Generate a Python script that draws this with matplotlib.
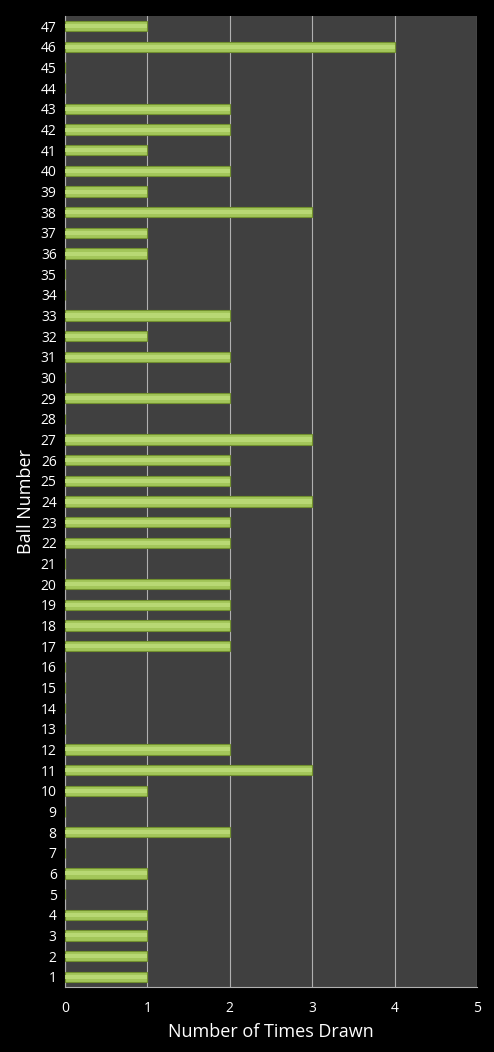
import matplotlib
matplotlib.use("Agg")
import matplotlib.pyplot as plt
import numpy as np

balls = list(range(1, 48))
times_drawn = [1, 1, 1, 1, 0, 1, 0, 2, 0, 1, 3, 2, 0, 0, 0, 0, 2, 2, 2, 2, 0, 2, 2, 3, 2, 2, 3, 0, 2,
               0, 2, 1, 2, 0, 0, 1, 1, 3, 1, 2, 1, 2, 2, 0, 0, 4, 1]
x_ticks = [0, 1, 2, 3, 4, 5]

plt.rcParams['font.family'] = ['Open Sans', 'DejaVu Sans']

fig = plt.figure(figsize=(4.94, 10.52), dpi=100, facecolor='black')
ax = fig.add_axes([65/494, 1-987/1052, (477-65)/494, (987-16)/1052])
ax.set_facecolor('#404040')

ax.barh(balls, times_drawn, height=0.5, color='#a3c65a', edgecolor='#72902f', linewidth=0.8, zorder=3)
ax.barh(balls, times_drawn, height=0.2, color='#b8d874', linewidth=0, zorder=4)

ax.set_xlim(0, 5)
ax.set_ylim(0.5, 47.5)
ax.set_xticks(x_ticks)
ax.set_yticks(balls)
ax.xaxis.grid(True, color='#b0b0b0', linewidth=0.8, zorder=1)
ax.set_axisbelow(True)
for s in ['top', 'right']:
    ax.spines[s].set_visible(False)
for s in ['left', 'bottom']:
    ax.spines[s].set_color('#b0b0b0')
    ax.spines[s].set_linewidth(0.8)
ax.tick_params(colors='white', labelsize=10, length=0, pad=6)
ax.tick_params(axis='x', pad=10)
ax.set_xlabel('Number of Times Drawn', color='white', fontsize=13, labelpad=5)
ax.set_ylabel('Ball Number', color='white', fontsize=13, labelpad=4)

fig.savefig('out.png', dpi=100, facecolor='black')
